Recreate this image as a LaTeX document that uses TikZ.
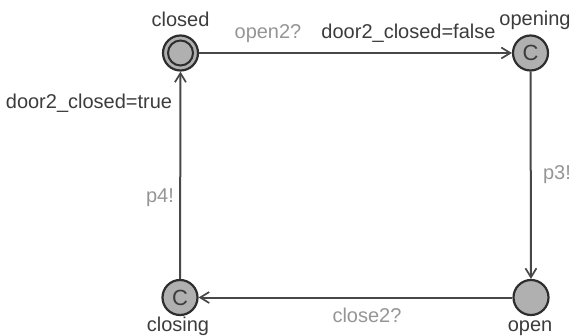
\documentclass[tikz,border=0pt]{standalone}
\usepackage{fontspec}
\setmainfont{Liberation Sans}
\usetikzlibrary{arrows.meta}
\definecolor{labgray}{HTML}{959595}
\definecolor{labdark}{HTML}{3C3C3C}
\definecolor{statefill}{HTML}{B0B0B0}
\definecolor{stateline}{HTML}{2E2E2E}
\definecolor{edgeline}{HTML}{474747}
\begin{document}
\begin{tikzpicture}[x=1pt,y=-1pt,
  font=\fontsize{20}{22}\selectfont,
  state/.style={circle, draw=stateline, fill=statefill, line width=2.2pt,
    minimum size=35pt, inner sep=0pt},
  committed/.style={state, font=\fontsize{22}{24}\selectfont, text=labdark},
  edge/.style={draw=edgeline, line width=2pt,
    -{Straight Barb[length=9pt,width=11pt,line width=1.7pt]}},
  locname/.style={text=labdark, anchor=base, inner sep=0pt},
  sync/.style={text=labgray, anchor=base, inner sep=0pt},
  upd/.style={text=labdark, anchor=base, inner sep=0pt}]
\useasboundingbox (0,0) rectangle (580,336);

% locations
\node[state] (closed) at (180.5,53) {};
\draw[stateline, line width=2pt] (closed.center) circle (12.5pt);
\node[committed] (opening) at (530.5,53) {C};
\node[state] (open) at (531,297.5) {};
\node[committed] (closing) at (180,297.5) {C};

% location names
\node[locname] (nclosed) at (180.5,27) {closed};
\node[locname] (nopening) at (535,25.5) {opening};
\node[locname] (nopen) at (530,331) {open};
\node[locname] (nclosing) at (178,331) {closing};

% transitions
\draw[edge] (closed) -- (opening);
\draw[edge] (opening) -- (open);
\draw[edge] (open) -- (closing);
\draw[edge] (closing) -- (closed);

% guards, syncs and updates
\node[sync] (s1) at (268,38.5) {open2?};
\node[upd] (u1) at (408.5,38.5) {door2\_closed=false};
\node[sync] (s2) at (557,180) {p3!};
\node[sync] (s3) at (367,322.5) {close2?};
\node[sync] (s4) at (160,203) {p4!};
\node[upd] (u4) at (89,109) {door2\_closed=true};
\end{tikzpicture}
\end{document}
